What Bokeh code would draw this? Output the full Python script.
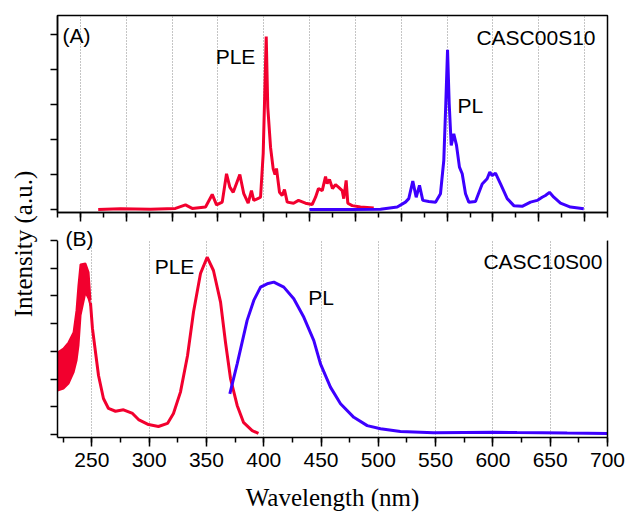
import math
from bokeh.plotting import figure
from bokeh.models import Range1d, SingleIntervalTicker, LinearAxis, Label, BoxAnnotation
from bokeh.layouts import row, column
from bokeh.embed import file_html
from bokeh.resources import INLINE

# ---------------- data ----------------
# Panel (A): CASC00S10
top_ple_nm = [219.4, 243.7, 276.5, 303.7, 314.6, 321.9, 336.5, 343.8, 348.5, 354.7,
              359.4, 363.0, 366.7, 373.9, 378.2, 383.0, 386.6, 389.1, 393.5, 396.5,
              399.4, 402.7, 404.4, 407.4, 410.3, 412.3, 413.9, 417.2, 420.1, 422.6,
              425.6, 432.5, 437.9, 445.5, 452.8, 456.5, 459.7, 463.8, 467.4, 469.2,
              471.7, 475.0, 478.3, 481.5, 485.6, 487.3, 489.9, 491.7, 496.5, 505.5, 520.0]
top_ple_int = [0.0, 0.02, 0.01, 0.03, 0.13, 0.03, 0.07, 0.43, 0.13, 0.21,
               1.02, 0.64, 0.49, 1.0, 0.45, 0.18, 0.54, 0.26, 0.31, 0.35,
               1.6, 4.94, 2.92, 1.78, 1.16, 1.0, 1.17, 0.49, 0.40, 0.57,
               0.21, 0.18, 0.26, 0.18, 0.14, 0.35, 0.6, 0.54, 0.94, 0.74,
               0.86, 0.6, 0.71, 0.64, 0.54, 0.31, 0.83, 0.18, 0.11, 0.07, 0.04]
top_pl_nm = [449.9, 494.6, 527.4, 545.6, 554.6, 558.2, 562.6, 566.3, 569.9, 573.5,
             580.0, 587.4, 592.8, 596.4, 598.6, 600.5, 602.3, 604.5, 607.3, 610.3,
             613.5, 616.5, 620.1, 623.7, 631.0, 638.3, 643.7, 646.6, 649.2, 652.8,
             658.3, 665.6, 672.8, 681.9, 691.0, 698.3, 703.7, 707.3, 711.7, 716.4,
             723.7, 734.6, 749.1]
top_pl_int = [0.0, 0.0, 0.01, 0.07, 0.21, 0.31, 0.81, 0.35, 0.69, 0.26,
              0.23, 0.21, 0.45, 1.4, 3.03, 4.56, 3.03, 1.83, 2.16, 1.83,
              1.21, 1.02, 0.45, 0.21, 0.23, 0.73, 0.88, 1.07, 0.97, 1.04,
              0.73, 0.31, 0.11, 0.09, 0.21, 0.26, 0.35, 0.40, 0.49, 0.35,
              0.18, 0.07, 0.02]

# Panel (B): CASC10S00
bot_noise_nm = [220.0, 225.2, 229.6, 234.0, 236.6, 238.3, 240.1, 244.4, 247.1, 248.8]
bot_noise_hi = [2.96, 3.10, 3.32, 3.68, 4.48, 5.38, 6.14, 6.17, 5.85, 4.84]
bot_noise_lo = [1.59, 1.66, 1.84, 2.24, 2.67, 3.21, 4.30, 5.13, 4.91, 4.66]
bot_ple_nm = [248.8, 250.5, 253.2, 255.8, 260.1, 264.5, 270.6, 277.6, 285.5, 290.7,
              299.4, 308.1, 316.0, 321.2, 327.3, 333.5, 338.7, 344.8, 350.6, 356.1,
              362.3, 366.6, 371.0, 376.8, 382.3, 389.9, 395.4]
bot_ple_int = [4.75, 3.83, 2.96, 2.13, 1.30, 0.94, 0.84, 0.89, 0.76, 0.54,
               0.36, 0.29, 0.40, 0.76, 1.53, 2.85, 4.42, 5.81, 6.40, 5.92,
               4.78, 3.33, 2.02, 1.05, 0.44, 0.14, 0.04]
bot_pl_nm = [370.4, 376.8, 385.5, 391.3, 397.2, 403.0, 408.8, 417.5, 426.2, 435.0,
             443.7, 449.5, 458.2, 467.0, 478.6, 490.3, 501.9, 519.3, 548.4, 575.0,
             600.0, 621.0, 664.8, 700.0]
bot_pl_int = [1.47, 2.55, 4.12, 4.84, 5.32, 5.44, 5.50, 5.32, 4.90, 4.23,
              3.39, 2.55, 1.71, 1.11, 0.62, 0.32, 0.21, 0.11, 0.06, 0.07,
              0.08, 0.07, 0.05, 0.04]

RED = "#f2002e"
BLUE = "#3d00ff"
SANS = "Liberation Sans"
SERIF = "Liberation Serif"
FS = "21px"


def hide_labels(ax):
    ax.major_label_text_font_size = "0px"
    ax.major_label_text_color = None
    ax.major_label_standoff = 0


def style(p, x_major_out=9, y_major_out=7):
    for ax in p.axis:
        ax.axis_line_width = 1.5
        ax.axis_line_color = "black"
        ax.major_tick_line_width = 1.5
        ax.minor_tick_line_width = 1.5
        ax.major_tick_line_color = "black"
        ax.minor_tick_line_color = "black"
        ax.major_tick_in = 0
        ax.minor_tick_in = 0
    for ax in p.xaxis:
        ax.major_tick_out = x_major_out
        ax.minor_tick_out = 5
    for ax in p.yaxis:
        ax.major_tick_out = y_major_out
    p.ygrid.visible = False
    p.xgrid.grid_line_color = "#8a8a8a"
    p.xgrid.grid_line_dash = "1 2"
    p.xgrid.grid_line_width = 1
    p.background_fill_color = "white"
    p.border_fill_color = "white"


# ---------------- top panel ----------------
top = figure(frame_width=550, frame_height=197,
             x_range=Range1d(175, 775), y_range=Range1d(-0.086, 5.543),
             output_backend="svg", toolbar_location=None,
             min_border_left=13, min_border_right=19,
             min_border_top=15, min_border_bottom=12)
top.xaxis.ticker = SingleIntervalTicker(interval=50, num_minor_ticks=2)
top.yaxis.ticker = SingleIntervalTicker(interval=1, num_minor_ticks=0)
for ax in top.axis:
    hide_labels(ax)
style(top)
top.yaxis.minor_tick_line_color = None
top.outline_line_color = "black"
top.outline_line_width = 1.5
top.outline_line_alpha = 1.0

top.line(top_ple_nm, top_ple_int, line_color=RED, line_width=3)
top.line(top_pl_nm, top_pl_int, line_color=BLUE, line_width=3)

for txt, x, y, al in [("(A)", 180.5, 4.97, "left"), ("PLE", 369.2, 4.36, "center"),
                      ("PL", 625.5, 2.96, "center"), ("CASC00S10", 761.9, 4.91, "right")]:
    top.add_layout(Label(x=x, y=y, text=txt, text_font=SANS, text_font_size=FS,
                         text_align=al, text_baseline="middle", text_color="black"))

# ---------------- bottom panel ----------------
bot = figure(frame_width=550, frame_height=213,
             x_range=Range1d(220, 700), y_range=Range1d(-0.108, 7.58),
             output_backend="svg", toolbar_location=None,
             min_border_left=13, min_border_right=19,
             min_border_top=0, min_border_bottom=77,
             x_axis_label="Wavelength (nm)")
bot.xaxis.ticker = SingleIntervalTicker(interval=50, num_minor_ticks=2)
bot.yaxis.ticker = SingleIntervalTicker(interval=1, num_minor_ticks=0)
bot.yaxis.bounds = (-0.108, 7.001)
hide_labels(bot.yaxis[0])
bot.xaxis.major_label_text_font = SANS
bot.xaxis.major_label_text_font_size = FS
bot.xaxis.major_label_text_color = "black"
bot.xaxis.major_label_standoff = 6
bot.xaxis.axis_label_text_font = SERIF
bot.xaxis.axis_label_text_font_size = "25px"
bot.xaxis.axis_label_text_font_style = "normal"
bot.xaxis.axis_label_text_color = "black"
bot.xaxis.axis_label_standoff = 14
right_ax = LinearAxis(ticker=SingleIntervalTicker(interval=1, num_minor_ticks=0),
                      bounds=(-0.108, 7.001),
                      axis_line_width=1.5, axis_line_color="black")
hide_labels(right_ax)
bot.add_layout(right_ax, "right")
style(bot)
bot.yaxis.minor_tick_line_color = None
right_ax.major_tick_line_color = None
right_ax.minor_tick_line_color = None
bot.outline_line_color = None

bot.varea(x=bot_noise_nm, y1=bot_noise_lo, y2=bot_noise_hi, fill_color=RED)
bot.line(bot_noise_nm, bot_noise_lo, line_color=RED, line_width=2)
bot.line(bot_noise_nm, bot_noise_hi, line_color=RED, line_width=2)
bot.line(bot_ple_nm, bot_ple_int, line_color=RED, line_width=3)
bot.line(bot_pl_nm, bot_pl_int, line_color=BLUE, line_width=3)

# blank strip above the panel's top tick (gap between the two panels)
bot.add_layout(BoxAnnotation(bottom=7.0, fill_color="white", fill_alpha=1.0,
                             line_color=None, line_alpha=0))

for txt, x, y, al in [("(B)", 227.0, 7.08, "left"), ("PLE", 322.1, 6.05, "center"),
                      ("PL", 450.0, 4.93, "center"), ("CASC10S00", 695.6, 6.26, "right")]:
    bot.add_layout(Label(x=x, y=y, text=txt, text_font=SANS, text_font_size=FS,
                         text_align=al, text_baseline="middle", text_color="black"))

# ---------------- shared y label ----------------
lab = figure(frame_width=44, frame_height=514, x_range=Range1d(0, 44), y_range=Range1d(0, 514),
             x_axis_type=None, y_axis_type=None, output_backend="svg", toolbar_location=None,
             min_border=0, outline_line_color=None)
lab.xgrid.visible = False
lab.ygrid.visible = False
lab.add_layout(Label(x=22.5, y=514 - 243.5, text="Intensity (a.u.)", angle=math.pi / 2,
                     text_font=SERIF, text_font_size="25px", text_align="center",
                     text_baseline="middle", text_color="black"))

layout = row(lab, column(top, bot, spacing=0), spacing=0)
open("out.html", "w").write(file_html(layout, INLINE))
